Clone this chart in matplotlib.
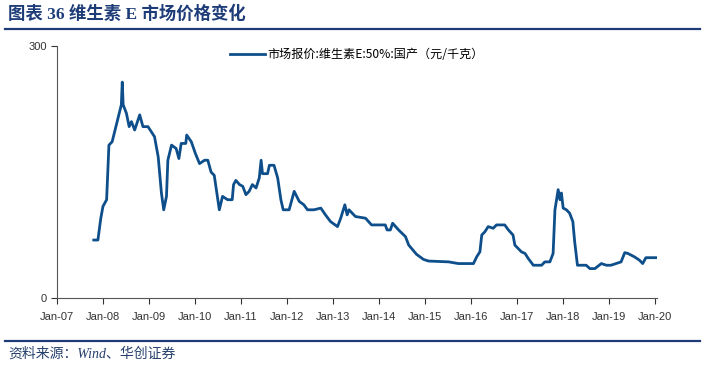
import datetime as dt
import matplotlib
matplotlib.use("Agg")
import matplotlib.pyplot as plt
import matplotlib.dates as mdates
from matplotlib.lines import Line2D

plt.rcParams['font.family'] = ['Liberation Sans', 'Noto Sans CJK SC', 'DejaVu Sans']

# decimal years
years = [2007.80, 2007.89, 2007.95, 2008.00, 2008.08, 2008.13, 2008.20, 2008.40, 2008.42, 2008.44,
         2008.51, 2008.57, 2008.62, 2008.69, 2008.80, 2008.87, 2008.98, 2009.05, 2009.12, 2009.20,
         2009.27, 2009.32, 2009.38, 2009.41, 2009.49, 2009.59, 2009.65, 2009.70, 2009.80, 2009.82,
         2009.92, 2010.01, 2010.10, 2010.21, 2010.28, 2010.35, 2010.42, 2010.46, 2010.53, 2010.60,
         2010.71, 2010.81, 2010.84, 2010.89, 2010.97, 2011.04, 2011.11, 2011.18, 2011.25, 2011.33,
         2011.40, 2011.44, 2011.47, 2011.58, 2011.62, 2011.72, 2011.80, 2011.87, 2011.92, 2012.05,
         2012.16, 2012.27, 2012.37, 2012.45, 2012.59, 2012.74, 2012.84, 2012.95, 2013.10, 2013.17,
         2013.26, 2013.31, 2013.35, 2013.49, 2013.71, 2013.84, 2014.14, 2014.18, 2014.25, 2014.30,
         2014.43, 2014.58, 2014.65, 2014.82, 2014.97, 2015.08, 2015.52, 2015.73, 2016.06, 2016.13,
         2016.20, 2016.24, 2016.31, 2016.38, 2016.49, 2016.56, 2016.74, 2016.82, 2016.92, 2016.96,
         2017.03, 2017.10, 2017.18, 2017.25, 2017.36, 2017.54, 2017.61, 2017.72, 2017.79, 2017.83,
         2017.86, 2017.90, 2017.94, 2017.97, 2018.01, 2018.08, 2018.15, 2018.22, 2018.26, 2018.32,
         2018.51, 2018.59, 2018.70, 2018.84, 2018.95, 2019.05, 2019.16, 2019.27, 2019.35, 2019.42,
         2019.49, 2019.56, 2019.67, 2019.74, 2019.81, 2020.03]
prices = [69, 69, 94, 109, 117, 182, 186, 230, 257, 230,
          220, 204, 210, 200, 218, 204, 204, 198, 192, 168,
          125, 105, 121, 164, 182, 178, 166, 184, 184, 194,
          186, 172, 160, 164, 164, 150, 146, 131, 105, 121,
          117, 117, 135, 140, 135, 133, 123, 127, 135, 131,
          143, 164, 148, 148, 158, 158, 143, 117, 105, 105,
          127, 115, 111, 105, 105, 107, 99, 91, 85, 95,
          111, 99, 105, 97, 95, 87, 87, 81, 81, 89,
          81, 73, 63, 52, 46, 44, 43, 41, 41, 49,
          55, 75, 79, 85, 83, 87, 87, 81, 75, 63,
          59, 55, 53, 47, 39, 39, 43, 43, 53, 105,
          115, 129, 117, 125, 107, 105, 101, 91, 67, 39,
          39, 35, 35, 41, 39, 39, 41, 43, 54, 53,
          51, 49, 45, 41, 48, 48]

series_name = '市场报价:维生素E:50%:国产（元/千克）'
title = '图表 36 维生素 E 市场价格变化'
source = '资料来源：Wind、华创证券'


def to_date(y):
    yr = int(y)
    return dt.datetime(yr, 1, 1) + dt.timedelta(days=(y - yr) * 365.25)


dates = [to_date(y) for y in years]

navy = '#1d3c78'
line_c = '#0e4f8b'

fig = plt.figure(figsize=(7.09, 3.68), dpi=100)
ax = fig.add_axes([57 / 709, 70 / 368, 600 / 709, 252 / 368])

ax.plot(dates, prices, color=line_c, lw=2.0, label=series_name)

ax.set_ylim(0, 300)
ax.set_yticks([0, 300])
ax.set_xlim(dt.datetime(2007, 1, 1), dt.datetime(2020, 1, 20))
ax.xaxis.set_major_locator(mdates.YearLocator())
ax.xaxis.set_major_formatter(mdates.DateFormatter('%b-%y'))
ax.tick_params(axis='both', labelsize=8, direction='out', length=4, width=0.8, colors='#333333')
ax.tick_params(axis='x', pad=6)
for s in ['top', 'right']:
    ax.spines[s].set_visible(False)
for s in ['left', 'bottom']:
    ax.spines[s].set_color('#555555')
    ax.spines[s].set_linewidth(0.8)

leg = ax.legend(loc='upper center', bbox_to_anchor=(0.5, 1.035), frameon=False,
                handlelength=2.9, handletextpad=0.2,
                prop={'family': ['Noto Sans CJK SC', 'DejaVu Sans'], 'size': 8.7})

# title bar
fig.text(8 / 709, 1 - 14 / 368, title, fontsize=12.5, fontweight='bold', color=navy,
         va='center', ha='left', family=['Liberation Serif', 'Noto Sans CJK SC'])
fig.add_artist(Line2D([5 / 709, 700 / 709], [1 - 28.5 / 368] * 2, color=navy, lw=1.6))

# source bar
fig.add_artist(Line2D([5 / 709, 700 / 709], [1 - 341 / 368] * 2, color=navy, lw=1.6))
fig.text(8 / 709, 1 - 354 / 368, source, fontsize=10, style='italic', color='#26406e',
         va='center', ha='left', family=['Liberation Serif', 'Noto Sans CJK SC'])

fig.savefig('out.png', dpi=100)
